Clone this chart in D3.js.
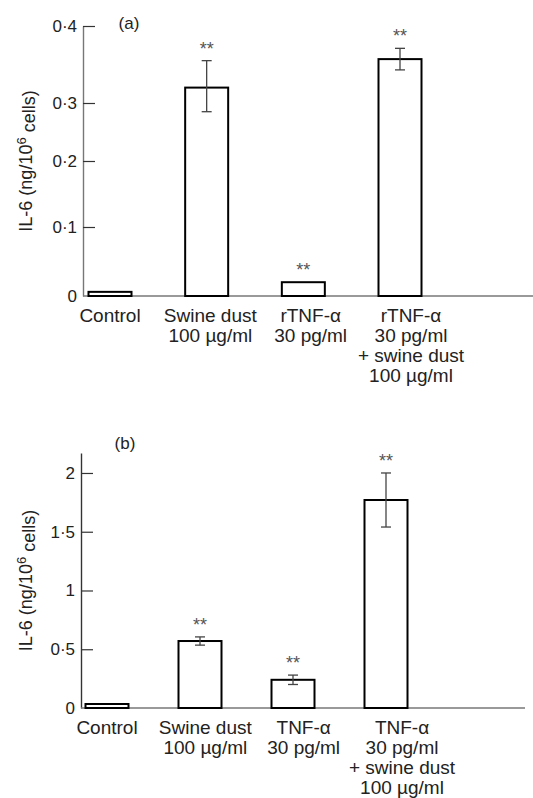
<!DOCTYPE html>
<meta http-equiv="content-type" content="text/html; charset=utf-8" />
<html>
  <head>
    <script src="https://d3js.org/d3.v7.min.js"></script>
    <style>
      body { margin: 0; background: #fff; }
      text { font-family: "Liberation Sans", Arial, sans-serif; fill: #222; }
    </style>
  </head>
  <body>
    <div id="viz"></div>
    <script>
      // panel (a)
      const categoriesA = ['Control', 'Swine dust', 'rTNF', 'rTNF + swine dust'];
      const labelsA = [['Control'], ['Swine dust', '100 µg/ml'], ['rTNF-α', '30 pg/ml'],
                       ['rTNF-α', '30 pg/ml', '+ swine dust', '100 µg/ml']];
      const meansA = [0.006, 0.32, 0.02, 0.357];
      const errA = [0, 0.035, 0, 0.014];
      const sigA = [false, true, true, true];
      const ticksA = [0, 0.1, 0.2, 0.3, 0.4];

      // panel (b)
      const categoriesB = ['Control', 'Swine dust', 'TNF', 'TNF + swine dust'];
      const labelsB = [['Control'], ['Swine dust', '100 µg/ml'], ['TNF-α', '30 pg/ml'],
                       ['TNF-α', '30 pg/ml', '+ swine dust', '100 µg/ml']];
      const meansB = [0.034, 0.57, 0.24, 1.77];
      const errB = [0, 0.035, 0.04, 0.23];
      const sigB = [false, true, true, true];
      const ticksB = [0, 0.5, 1, 1.5, 2];

      const svg = d3.select('#viz')
        .append('svg')
        .attr('width', 533)
        .attr('height', 798);

      const fmt = d => String(d).replace('.', '·');

      // the printed y axis of (a) is not evenly spaced, so the scale follows its ticks
      drawPanel({
        tag: '(a)', cats: categoriesA, labels: labelsA, means: meansA, errs: errA, sig: sigA,
        ticks: ticksA,
        y: d3.scaleLinear().domain(ticksA).range([296, 227, 161, 103, 26]),
        x: d3.scalePoint().domain(categoriesA).range([110, 400]),
        xl: d3.scalePoint().domain(categoriesA).range([110, 411]),
        axisX: 83, axisEnd: 533, axisColor: '#777', tagX: 129, tagY: 29
      });

      drawPanel({
        tag: '(b)', cats: categoriesB, labels: labelsB, means: meansB, errs: errB, sig: sigB,
        ticks: ticksB,
        y: d3.scaleLinear().domain([0, 2.17]).range([708, 453]),
        x: d3.scalePoint().domain(categoriesB).range([107, 386]),
        xl: d3.scalePoint().domain(categoriesB).range([107, 402]),
        axisX: 81, axisEnd: 525, axisColor: '#333', tagX: 125, tagY: 449
      });

      function drawPanel(p) {
        let g = svg.append('g');
        let base = p.y(0);
        let barW = 43;

        // y axis, ticks pointing into the plot
        let ax = g.append('g')
          .attr('transform', `translate(${p.axisX},0)`)
          .call(d3.axisLeft(p.y).tickValues(p.ticks).tickFormat(fmt)
            .tickSizeInner(-12).tickSizeOuter(0).tickPadding(6));
        ax.select('.domain').attr('stroke', p.axisColor).attr('stroke-width', 1.4);
        ax.selectAll('.tick line').attr('stroke', '#333').attr('stroke-width', 1.2)
          .filter(d => d === 0).remove();
        ax.selectAll('.tick text')
          .style('font-size', '17px')
          .style('font-family', '"Liberation Sans", Arial, sans-serif')
          .attr('fill', '#222');

        // x baseline
        g.append('line')
          .attr('x1', p.axisX).attr('x2', p.axisEnd)
          .attr('y1', base).attr('y2', base)
          .attr('stroke', '#777').attr('stroke-width', 1.4);

        let data = p.cats.map((c, i) => ({c: c, m: p.means[i], e: p.errs[i], s: p.sig[i], lab: p.labels[i]}));

        g.selectAll('.bar')
          .data(data)
          .join('rect')
          .attr('class', 'bar')
          .attr('x', d => p.x(d.c) - barW / 2)
          .attr('y', d => p.y(d.m))
          .attr('width', barW)
          .attr('height', d => base - p.y(d.m))
          .attr('fill', '#fff')
          .attr('stroke', '#000')
          .attr('stroke-width', 2);

        // error bars
        let eb = g.selectAll('.err')
          .data(data.filter(d => d.e > 0))
          .join('g')
          .attr('class', 'err')
          .attr('stroke', '#444')
          .attr('stroke-width', 1.3);
        eb.append('line')
          .attr('x1', d => p.x(d.c)).attr('x2', d => p.x(d.c))
          .attr('y1', d => p.y(d.m + d.e)).attr('y2', d => p.y(d.m - d.e));
        eb.append('line')
          .attr('x1', d => p.x(d.c) - 5).attr('x2', d => p.x(d.c) + 5)
          .attr('y1', d => p.y(d.m + d.e)).attr('y2', d => p.y(d.m + d.e));
        eb.append('line')
          .attr('x1', d => p.x(d.c) - 5).attr('x2', d => p.x(d.c) + 5)
          .attr('y1', d => p.y(d.m - d.e)).attr('y2', d => p.y(d.m - d.e));

        // significance stars
        g.selectAll('.star')
          .data(data.filter(d => d.s))
          .join('text')
          .attr('class', 'star')
          .attr('x', d => p.x(d.c))
          .attr('y', d => p.y(d.m + d.e) - 6)
          .attr('text-anchor', 'middle')
          .style('font-size', '18px')
          .style('fill', '#555')
          .text('**');

        // category labels, several lines each
        let lab = g.selectAll('.cat')
          .data(data)
          .join('text')
          .attr('class', 'cat')
          .attr('text-anchor', 'middle')
          .style('font-size', '19px');
        lab.selectAll('tspan')
          .data(d => d.lab.map(t => ({t: t, c: d.c})))
          .join('tspan')
          .attr('x', d => p.xl(d.c))
          .attr('y', (d, i) => base + 26 + i * 20)
          .text(d => d.t);

        // panel tag
        g.append('text')
          .attr('x', p.tagX).attr('y', p.tagY)
          .attr('text-anchor', 'middle')
          .style('font-size', '17px')
          .text(p.tag);

        // y axis title
        let r = p.y.range();
        let mid = (r[0] + r[r.length - 1]) / 2;
        let t = g.append('text')
          .attr('text-anchor', 'middle')
          .attr('transform', `translate(32,${mid})rotate(-90)`)
          .style('font-size', '18px');
        t.append('tspan').text('IL-6 (ng/10');
        t.append('tspan').attr('dy', '-0.5em').style('font-size', '13px').text('6');
        t.append('tspan').attr('dy', '0.5em').text(' cells)');
      }
    </script>
  </body>
</html>
